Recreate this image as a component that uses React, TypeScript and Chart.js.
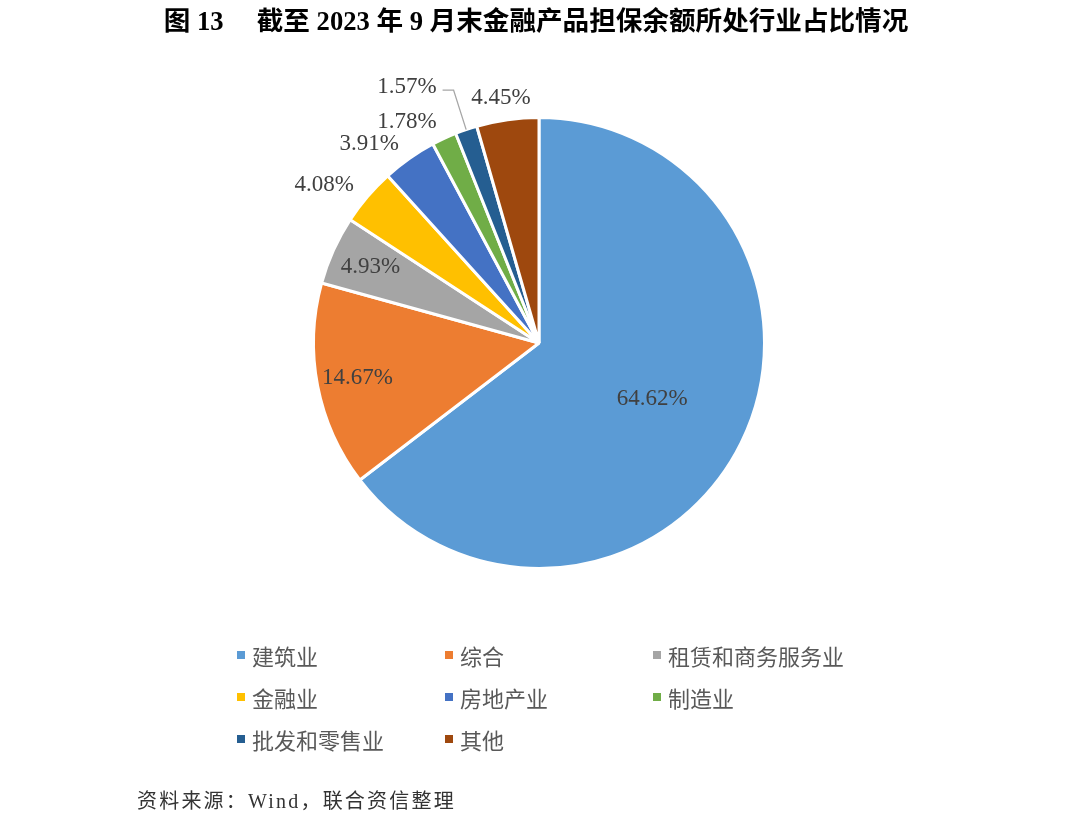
import React, { useEffect, useRef } from "react";
import { Chart, registerables } from "chart.js";

Chart.register(...registerables);

const categories = ["建筑业", "综合", "租赁和商务服务业", "金融业", "房地产业", "制造业", "批发和零售业", "其他"];
const shares = [64.62, 14.67, 4.93, 4.08, 3.91, 1.78, 1.57, 4.45];
const colors = ["#5B9BD5", "#ED7D31", "#A5A5A5", "#FFC000", "#4472C4", "#70AD47", "#255E91", "#9E480E"];
const titleText = "图 13　 截至 2023 年 9 月末金融产品担保余额所处行业占比情况";
const sourceText = "资料来源：Wind，联合资信整理";

const clamp = (v: number, a: number, b: number) => Math.max(a, Math.min(b, v));

const labelPlugin = {
  id: "pctLabels",
  afterDatasetsDraw(chart: any) {
    const ctx = chart.ctx as CanvasRenderingContext2D;
    const meta = chart.getDatasetMeta(0);
    const data = chart.data.datasets[0].data as number[];
    ctx.save();
    ctx.font = '23px "Liberation Serif", "Times New Roman", serif';
    ctx.textAlign = "center";
    ctx.textBaseline = "middle";
    const placed: { cx: number; cy: number; w: number; h: number }[] = [];
    meta.data.forEach((arc: any, i: number) => {
      const p = arc.getProps(["x", "y", "startAngle", "endAngle", "outerRadius"], true);
      const v = data[i];
      const text = v.toFixed(2) + "%";
      const mid = (p.startAngle + p.endAngle) / 2;
      const dx = Math.cos(mid);
      const dy = Math.sin(mid);
      const r = p.outerRadius;
      const w = ctx.measureText(text).width;
      const h = 17;
      let cx: number;
      let cy: number;
      let leader = false;
      if (v >= 30) {
        cx = p.x + dx * r * 0.56;
        cy = p.y + dy * r * 0.56;
      } else if (v >= 4.9) {
        cx = p.x + dx * r * 0.82;
        cy = p.y + dy * r * 0.82;
      } else {
        const t = clamp((Math.abs(dx) - 0.1) / 0.25, 0, 1);
        const d = r + 14 + 4 * t;
        cx = p.x + dx * d + Math.sign(dx) * (w / 2) * t;
        cy = p.y + dy * d + Math.sign(dy) * (h / 2) * (1 - t);
        const prev = placed[placed.length - 1];
        if (prev && Math.abs(prev.cx - cx) < (prev.w + w) / 2 + 2 && Math.abs(prev.cy - cy) < (prev.h + h) / 2 + 2) {
          cx = prev.cx + prev.w / 2 - w / 2;
          cy = prev.cy - 35;
          leader = true;
        }
        placed.push({ cx, cy, w, h });
      }
      if (leader) {
        ctx.strokeStyle = "#A6A6A6";
        ctx.lineWidth = 1.3;
        ctx.beginPath();
        const lx = cx + w / 2 + 6;
        const ly = cy + 3;
        ctx.moveTo(lx, ly);
        ctx.lineTo(lx + 11, ly);
        ctx.lineTo(p.x + dx * r, p.y + dy * r);
        ctx.stroke();
      }
      ctx.fillStyle = "#404040";
      ctx.fillText(text, cx, cy);
    });
    ctx.restore();
  },
};

export default function App() {
  const canvasRef = useRef<HTMLCanvasElement | null>(null);

  useEffect(() => {
    if (!canvasRef.current) return;
    const chart = new Chart(canvasRef.current, {
      type: "pie",
      data: {
        labels: categories,
        datasets: [
          {
            data: shares,
            backgroundColor: colors,
            borderColor: "#ffffff",
            borderWidth: 3,
          },
        ],
      },
      options: {
        responsive: false,
        animation: false,
        layout: { padding: { left: 312, right: 314, top: 116, bottom: 247 } },
        plugins: { legend: { display: false }, tooltip: { enabled: false } },
      } as any,
      plugins: [labelPlugin as any],
    });
    return () => chart.destroy();
  }, []);

  const colX = [237, 445, 653];
  const rowY = [655, 697, 739];

  return (
    <div style={{ position: "absolute", left: 0, top: 0, width: 1080, height: 817, background: "#fff", overflow: "hidden" }}>
      <canvas ref={canvasRef} width={1080} height={817} style={{ position: "absolute", left: 0, top: 0, display: "block" }} />
      <div
        style={{
          position: "absolute",
          left: 0,
          top: 5,
          width: 1072,
          textAlign: "center",
          whiteSpace: "pre",
          fontFamily: '"Liberation Serif", "Noto Sans CJK SC", serif',
          fontWeight: "bold",
          fontSize: 26.6,
          lineHeight: "32px",
          color: "#000",
        }}
      >
        {titleText}
      </div>
      {categories.map((c, i) => {
        const x = colX[i % 3];
        const y = rowY[Math.floor(i / 3)];
        return (
          <React.Fragment key={c}>
            <div style={{ position: "absolute", left: x, top: y - 4, width: 8, height: 8, background: colors[i] }} />
            <div
              style={{
                position: "absolute",
                left: x + 15,
                top: y - 15,
                lineHeight: "30px",
                fontSize: 22,
                whiteSpace: "nowrap",
                fontFamily: '"Noto Sans CJK SC", sans-serif',
                color: "#595959",
              }}
            >
              {c}
            </div>
          </React.Fragment>
        );
      })}
      <div
        style={{
          position: "absolute",
          left: 137,
          top: 786,
          lineHeight: "30px",
          fontSize: 20,
          letterSpacing: 2.2,
          whiteSpace: "nowrap",
          fontFamily: '"Liberation Serif", "Noto Sans CJK SC", serif',
          color: "#333",
        }}
      >
        {sourceText}
      </div>
    </div>
  );
}
